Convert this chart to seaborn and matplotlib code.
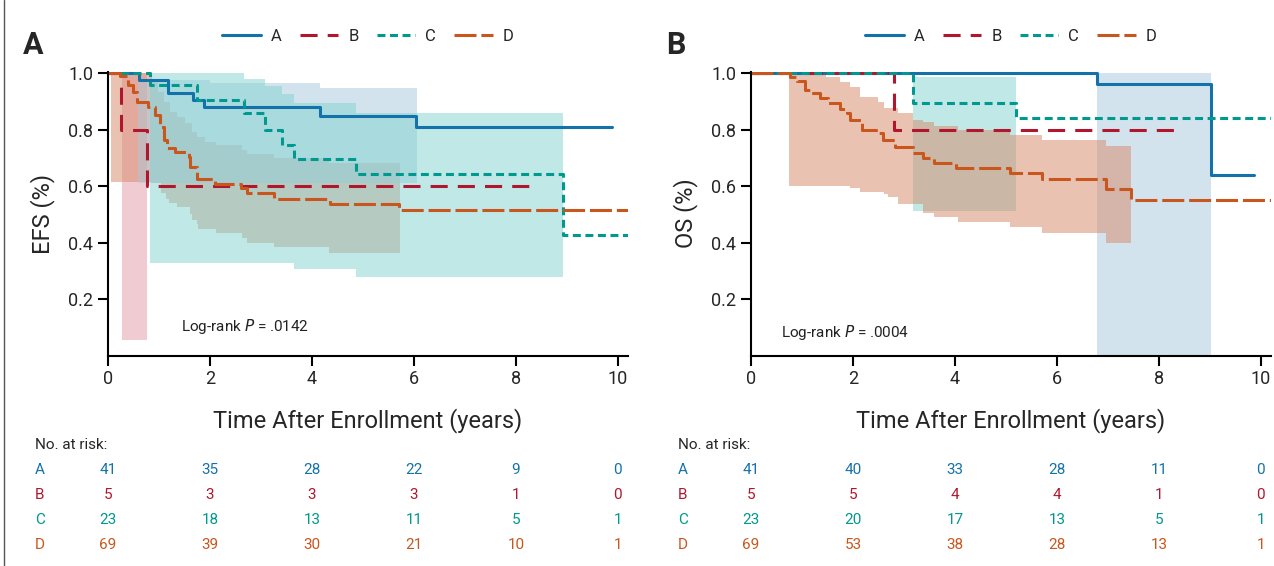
import matplotlib
matplotlib.use("Agg")
import matplotlib.pyplot as plt
import matplotlib.transforms as mtrans
from matplotlib.lines import Line2D
import seaborn as sns
import pandas as pd

groups = ["A", "B", "C", "D"]
line_colors = {"A": "#1372a9", "B": "#b0172f", "C": "#00998f", "D": "#c9561c"}
band_colors = {"A": "#a9c9dd", "B": "#e29ba7", "C": "#81d3d1", "D": "#d78767"}
line_styles = {"A": "-", "B": (0, (5.6, 3.3)), "C": (0, (2.6, 1.5)), "D": (0, (7.2, 1.6))}

# ---- EFS panel (A) step curves: time in years, survival fraction
efs_A_t = [0, 0.6, 1.18, 1.66, 1.89, 4.16, 6.05, 9.88]
efs_A_s = [1.0, 0.975, 0.928, 0.904, 0.881, 0.848, 0.808, 0.808]
efs_B_t = [0, 0.25, 0.76, 8.41]
efs_B_s = [1.0, 0.80, 0.60, 0.60]
efs_C_t = [0, 0.83, 1.74, 2.66, 3.08, 3.41, 3.64, 4.86, 8.93, 10.2]
efs_C_s = [1.0, 0.957, 0.904, 0.857, 0.798, 0.745, 0.695, 0.642, 0.428, 0.428]
efs_D_t = [0, 0.24, 0.40, 0.50, 0.56, 0.79, 0.92, 1.02, 1.09, 1.15, 1.32, 1.58, 1.61, 1.74,
           2.10, 2.60, 2.72, 3.25, 4.35, 5.70, 10.2]
efs_D_s = [1.0, 0.99, 0.957, 0.934, 0.898, 0.881, 0.852, 0.81, 0.763, 0.733, 0.722, 0.704, 0.668, 0.624,
           0.607, 0.592, 0.574, 0.555, 0.536, 0.515, 0.515]

# EFS confidence bands
efs_A_band_t = [0.58, 2.0, 4.16, 6.06]
efs_A_band_hi = [0.975, 0.963, 0.946, 0.946]
efs_A_band_lo = [0.61, 0.61, 0.61, 0.61]
efs_B_band_t = [0.27, 0.76]
efs_B_band_hi = [1.0, 1.0]
efs_B_band_lo = [0.055, 0.055]
efs_C_band_t = [0.83, 2.66, 3.08, 3.41, 3.64, 4.86, 8.93]
efs_C_band_hi = [1.0, 0.978, 0.955, 0.926, 0.893, 0.857, 0.857]
efs_C_band_lo = [0.327, 0.327, 0.327, 0.327, 0.306, 0.277, 0.277]
efs_D_band_t = [0.05, 0.86, 0.99, 1.03, 1.09, 1.14, 1.19, 1.22, 1.35, 1.51, 1.6, 1.64, 1.74, 1.76,
                1.9, 2.11, 2.63, 2.72, 3.25, 4.34, 5.72]
efs_D_band_hi = [1.0, 0.975, 0.934, 0.934, 0.898, 0.898, 0.898, 0.863, 0.845, 0.822, 0.822, 0.792,
                 0.775, 0.775, 0.757, 0.745, 0.728, 0.712, 0.698, 0.68, 0.68]
efs_D_band_lo = [0.615, 0.612, 0.612, 0.574, 0.574, 0.553, 0.539, 0.539, 0.527, 0.527, 0.50, 0.48,
                 0.465, 0.448, 0.448, 0.433, 0.415, 0.40, 0.383, 0.364, 0.364]

# ---- OS panel (B)
os_A_t = [0, 6.79, 9.03, 9.87]
os_A_s = [1.0, 0.961, 0.639, 0.639]
os_B_t = [0, 2.80, 8.41]
os_B_s = [1.0, 0.80, 0.80]
os_C_t = [0, 3.17, 5.2, 10.2]
os_C_s = [1.0, 0.895, 0.84, 0.84]
os_D_t = [0, 0.76, 0.9, 1.06, 1.16, 1.35, 1.52, 1.75, 1.88, 1.94, 2.17, 2.5, 2.59, 2.82, 3.18, 3.38,
          3.58, 4.03, 5.08, 5.70, 6.97, 7.46, 10.2]
os_D_s = [1.0, 0.987, 0.97, 0.94, 0.928, 0.91, 0.895, 0.871, 0.857, 0.834, 0.80, 0.787, 0.763, 0.737,
          0.716, 0.698, 0.68, 0.663, 0.645, 0.624, 0.589, 0.55, 0.55]

os_A_band_t = [6.79, 9.03]
os_A_band_hi = [1.0, 1.0]
os_A_band_lo = [0.0, 0.0]
os_C_band_t = [3.17, 5.2]
os_C_band_hi = [0.987, 0.987]
os_C_band_lo = [0.513, 0.513]
os_D_band_t = [0.75, 1.48, 1.75, 1.94, 2.14, 2.5, 2.6, 2.69, 2.89, 3.18, 3.37, 3.58, 4.07, 5.08,
               5.70, 6.97, 7.46]
os_D_band_hi = [0.993, 0.987, 0.969, 0.951, 0.916, 0.898, 0.875, 0.875, 0.857, 0.835, 0.828, 0.812,
                0.798, 0.78, 0.763, 0.742, 0.742]
os_D_band_lo = [0.60, 0.60, 0.60, 0.592, 0.58, 0.58, 0.57, 0.56, 0.536, 0.536, 0.503, 0.489, 0.474,
                0.456, 0.435, 0.397, 0.397]

# numbers at risk at years 0, 2, 4, 6, 8, 10
risk_years = [0, 2, 4, 6, 8, 10]
efs_risk = {"A": [41, 35, 28, 22, 9, 0], "B": [5, 3, 3, 3, 1, 0],
            "C": [23, 18, 13, 11, 5, 1], "D": [69, 39, 30, 21, 10, 1]}
os_risk = {"A": [41, 40, 33, 28, 11, 0], "B": [5, 5, 4, 4, 1, 0],
           "C": [23, 20, 17, 13, 5, 1], "D": [69, 53, 38, 28, 13, 1]}

panels = [
    dict(letter="A", ylabel="EFS (%)", pval=".0142", ptxt=(1.43, 0.104), left=108,
         curves={"A": (efs_A_t, efs_A_s), "B": (efs_B_t, efs_B_s),
                 "C": (efs_C_t, efs_C_s), "D": (efs_D_t, efs_D_s)},
         bands=[("B", efs_B_band_t, efs_B_band_lo, efs_B_band_hi),
                ("D", efs_D_band_t, efs_D_band_lo, efs_D_band_hi),
                ("A", efs_A_band_t, efs_A_band_lo, efs_A_band_hi),
                ("C", efs_C_band_t, efs_C_band_lo, efs_C_band_hi)],
         risk=efs_risk),
    dict(letter="B", ylabel="OS (%)", pval=".0004", ptxt=(0.59, 0.08), left=751,
         curves={"A": (os_A_t, os_A_s), "B": (os_B_t, os_B_s),
                 "C": (os_C_t, os_C_s), "D": (os_D_t, os_D_s)},
         bands=[("A", os_A_band_t, os_A_band_lo, os_A_band_hi),
                ("C", os_C_band_t, os_C_band_lo, os_C_band_hi),
                ("D", os_D_band_t, os_D_band_lo, os_D_band_hi)],
         risk=os_risk),
]

sns.set_style("ticks")
plt.rcParams["font.family"] = ["Roboto", "DejaVu Sans"]

W, H = 1274, 566
fig = plt.figure(figsize=(W / 100, H / 100), dpi=100)

# thin frame line on the left edge, as in the journal figure
fig.add_artist(Line2D([4 / W, 4 / W], [0, 1], color="#555555", lw=1.0))

for p in panels:
    ax = fig.add_axes([p["left"] / W, (H - 355.5) / H, 520 / W, (355.5 - 71.6) / H])

    for g, bt, lo, hi in p["bands"]:
        ax.fill_between(bt, lo, hi, step="post", color=band_colors[g], alpha=0.5, lw=0)

    for g in groups:
        t, s = p["curves"][g]
        df = pd.DataFrame({"t": t, "s": s})
        sns.lineplot(data=df, x="t", y="s", ax=ax, color=line_colors[g], lw=2.2,
                     linestyle=line_styles[g], drawstyle="steps-post",
                     estimator=None, sort=False, legend=False)

    ax.set_xlim(0, 10.2)
    ax.set_ylim(0, 1.005)
    ax.set_xticks([0, 2, 4, 6, 8, 10])
    ax.set_yticks([0.2, 0.4, 0.6, 0.8, 1.0])
    ax.set_yticklabels(["0.2", "0.4", "0.6", "0.8", "1.0"])
    ax.tick_params(labelsize=13, length=7, width=1.5, color="black")
    sns.despine(ax=ax)
    for sp in ["left", "bottom"]:
        ax.spines[sp].set_linewidth(1.5)
        ax.spines[sp].set_color("black")

    ax.set_xlabel("Time After Enrollment (years)", fontsize=17)
    ax.xaxis.set_label_coords(0.5, -0.185)
    ax.set_ylabel(p["ylabel"], fontsize=17)
    ax.yaxis.set_label_coords(-0.102, 0.5)

    ax.text(p["ptxt"][0], p["ptxt"][1], "Log-rank $\\it{P}$ = " + p["pval"],
            fontsize=11, va="center", color="#222222")

    handles = [Line2D([], [], color=line_colors[g], lw=2.2, linestyle=line_styles[g]) for g in groups]
    ax.legend(handles, groups, loc="center", bbox_to_anchor=(0.5, 1.125), ncol=4,
              frameon=False, fontsize=12, handlelength=2.3, handletextpad=0.6,
              columnspacing=1.1)

    fig.text((p["left"] - 85) / W, 1 - 45 / H, p["letter"], fontsize=22,
             fontweight="bold", va="center")

    # risk table
    trans = mtrans.blended_transform_factory(ax.transData, fig.transFigure)
    fig.text((p["left"] - 73) / W, 1 - 445 / H, "No. at risk:", fontsize=11, va="center")
    for i, g in enumerate(groups):
        yy = 1 - (470 + 25 * i) / H
        fig.text((p["left"] - 73) / W, yy, g, fontsize=11, va="center", color=line_colors[g])
        for yr, n in zip(risk_years, p["risk"][g]):
            ax.text(yr, yy, str(n), transform=trans, fontsize=11, ha="center",
                    va="center", color=line_colors[g])

fig.savefig("out.png", dpi=100)
